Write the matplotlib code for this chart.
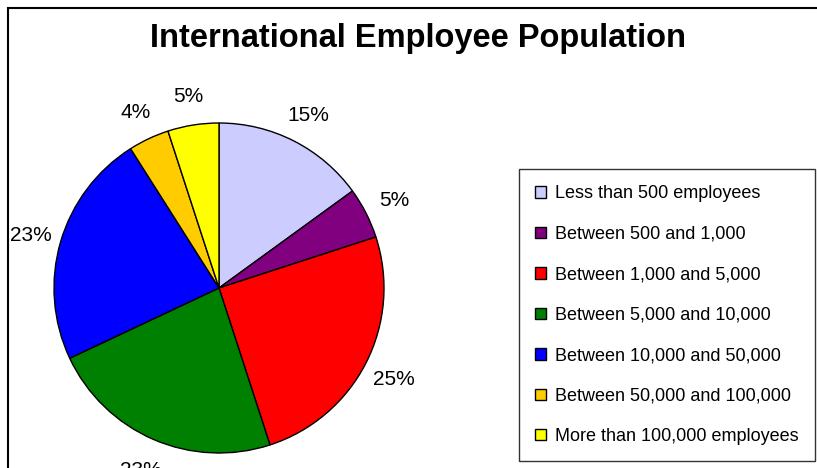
import matplotlib.pyplot as plt
from matplotlib.patches import Rectangle

# Share of employees by company size
categories = [
    "Less than 500 employees",
    "Between 500 and 1,000",
    "Between 1,000 and 5,000",
    "Between 5,000 and 10,000",
    "Between 10,000 and 50,000",
    "Between 50,000 and 100,000",
    "More than 100,000 employees",
]
shares = [15, 5, 25, 23, 23, 4, 5]
colors = ["#CCCCFF", "#800080", "#FF0000", "#008000", "#0000FF", "#FFCC00", "#FFFF00"]

plt.rcParams['font.family'] = ['Liberation Sans', 'DejaVu Sans']

W, H = 817, 468
fig = plt.figure(figsize=(W / 100, H / 100), dpi=100)

# chart frame, runs off the right and bottom edge
fig.patches.append(Rectangle((8 / W, -0.1), 1.2, 1.1 - 8 / H, transform=fig.transFigure,
                             fill=False, edgecolor="black", linewidth=1.5))

# pie placed by pixel: centre (219, 288), radius 165
cx, cy, r = 219, 288, 165
ax = fig.add_axes([(cx - r) / W, (H - cy - r) / H, 2 * r / W, 2 * r / H])
wedges, _, pcts = ax.pie(
    shares, colors=colors, startangle=90, counterclock=False,
    autopct=lambda p: f"{p:.0f}%", pctdistance=1.19,
    wedgeprops=dict(edgecolor="black", linewidth=1.0),
    textprops=dict(fontsize=15, verticalalignment="center_baseline"),
)
for t in pcts:
    t.set_clip_on(False)
ax.set_xlim(-1, 1)
ax.set_ylim(-1, 1)
ax.set_aspect("equal")
ax.axis("off")

fig.text(418 / W, 1 - 47 / H, "International Employee Population",
         ha="center", va="baseline", fontsize=23.5, fontweight="bold")

leg = fig.legend(wedges, categories, loc="upper left",
                 bbox_to_anchor=(519 / W, 1 - 169 / H),
                 fontsize=13, frameon=True, fancybox=False, shadow=False,
                 handlelength=0.6, handleheight=0.6, handletextpad=0.5,
                 labelspacing=1.3, borderpad=0.9, borderaxespad=0)
leg.get_frame().set_edgecolor("black")
leg.get_frame().set_linewidth(1.0)

fig.savefig("out.png", dpi=100)
